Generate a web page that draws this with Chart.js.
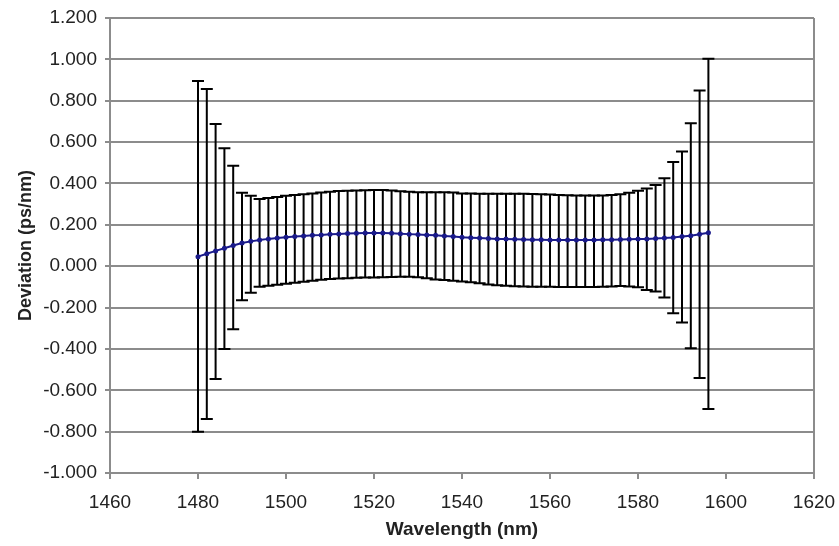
<!DOCTYPE html>
<html>
<head>
<meta charset="utf-8">
<script src="https://cdn.jsdelivr.net/npm/chart.js@4"></script>
<style>
  html, body { margin: 0; padding: 0; background: #fff; }
  canvas { display: block; }
</style>
</head>
<body>
<canvas id="devChart" width="839" height="546"></canvas>
<script>
// Wavelength points (nm)
const wavelengths = [
    1480, 1482, 1484, 1486, 1488, 1490, 1492, 1494, 1496, 1498,
    1500, 1502, 1504, 1506, 1508, 1510, 1512, 1514, 1516, 1518,
    1520, 1522, 1524, 1526, 1528, 1530, 1532, 1534, 1536, 1538,
    1540, 1542, 1544, 1546, 1548, 1550, 1552, 1554, 1556, 1558,
    1560, 1562, 1564, 1566, 1568, 1570, 1572, 1574, 1576, 1578,
    1580, 1582, 1584, 1586, 1588, 1590, 1592, 1594, 1596
];

// Mean deviation (ps/nm)
const meanDev = [
    0.046, 0.060, 0.074, 0.087, 0.100, 0.112, 0.120, 0.127, 0.132, 0.136,
    0.140, 0.143, 0.146, 0.149, 0.151, 0.154, 0.156, 0.158, 0.159, 0.160,
    0.161, 0.160, 0.159, 0.157, 0.155, 0.153, 0.151, 0.149, 0.146, 0.143,
    0.140, 0.138, 0.136, 0.134, 0.132, 0.131, 0.130, 0.129, 0.128, 0.128,
    0.127, 0.127, 0.127, 0.127, 0.127, 0.127, 0.128, 0.128, 0.129, 0.130,
    0.131, 0.132, 0.134, 0.136, 0.139, 0.143, 0.147, 0.154, 0.162
];

// Error bar ends
const upperDev = [
    0.895, 0.857, 0.687, 0.570, 0.486, 0.355, 0.341, 0.325, 0.330, 0.335,
    0.340, 0.344, 0.348, 0.352, 0.356, 0.360, 0.363, 0.365, 0.366, 0.367,
    0.368, 0.368, 0.366, 0.362, 0.360, 0.358, 0.357, 0.357, 0.357, 0.356,
    0.352, 0.351, 0.350, 0.350, 0.350, 0.350, 0.350, 0.350, 0.349, 0.348,
    0.346, 0.344, 0.343, 0.342, 0.342, 0.342, 0.342, 0.344, 0.348, 0.355,
    0.365, 0.376, 0.392, 0.425, 0.504, 0.554, 0.691, 0.849, 1.003
];
const lowerDev = [
    -0.800, -0.739, -0.545, -0.400, -0.305, -0.165, -0.128, -0.100, -0.095, -0.090,
    -0.085, -0.080, -0.075, -0.070, -0.066, -0.062, -0.060, -0.058, -0.056, -0.055,
    -0.055, -0.054, -0.052, -0.051, -0.051, -0.053, -0.058, -0.064, -0.067, -0.070,
    -0.074, -0.078, -0.083, -0.088, -0.092, -0.095, -0.097, -0.098, -0.099, -0.100,
    -0.100, -0.101, -0.101, -0.101, -0.101, -0.101, -0.100, -0.098, -0.096, -0.098,
    -0.102, -0.115, -0.123, -0.152, -0.228, -0.272, -0.397, -0.541, -0.691
];

// Axis ticks
const xTicks = [1460, 1480, 1500, 1520, 1540, 1560, 1580, 1600, 1620];
const yTicks = [-1.0, -0.8, -0.6, -0.4, -0.2, 0.0, 0.2, 0.4, 0.6, 0.8, 1.0, 1.2];

const gridGray = '#8c8c8c';
const textColor = '#222';
const fontFamily = "'Liberation Sans', Arial, sans-serif";

// Draw vertical error bars with caps, under the mean line
const errorBars = {
    id: 'errorBars',
    beforeDatasetsDraw(chart) {
        const { ctx, scales: { x, y } } = chart;
        ctx.save();
        ctx.strokeStyle = '#000';
        ctx.lineWidth = 2;
        wavelengths.forEach((w, i) => {
            const px = x.getPixelForValue(w);
            const top = y.getPixelForValue(upperDev[i]);
            const bot = y.getPixelForValue(lowerDev[i]);
            ctx.beginPath();
            ctx.moveTo(px, top);
            ctx.lineTo(px, bot);
            ctx.moveTo(px - 6, top);
            ctx.lineTo(px + 6, top);
            ctx.moveTo(px - 6, bot);
            ctx.lineTo(px + 6, bot);
            ctx.stroke();
        });
        ctx.restore();
    }
};

const ctx = document.getElementById('devChart').getContext('2d');
new Chart(ctx, {
    type: 'scatter',
    data: {
        datasets: [{
            data: wavelengths.map((w, i) => ({ x: w, y: meanDev[i] })),
            showLine: true,
            borderColor: '#1a1a8a',
            backgroundColor: '#1a1a8a',
            borderWidth: 2,
            pointRadius: 2.5,
            pointBorderWidth: 0
        }]
    },
    options: {
        responsive: false,
        animation: false,
        layout: {
            padding: { top: 18, right: 25, left: 0, bottom: 0 }
        },
        plugins: {
            legend: { display: false },
            tooltip: { enabled: false }
        },
        scales: {
            x: {
                type: 'linear',
                min: 1460,
                max: 1620,
                afterFit(scale) {
                    scale.height = 73;
                    scale.paddingLeft = 0;
                    scale.paddingRight = 0;
                },
                afterBuildTicks(scale) { scale.ticks = xTicks.map(v => ({ value: v })); },
                grid: {
                    color: c => (c.tick && c.tick.value === 1620 ? gridGray : 'rgba(0,0,0,0)'),
                    tickColor: gridGray,
                    tickLength: 6,
                    lineWidth: 2
                },
                border: { color: gridGray, width: 2 },
                ticks: {
                    color: textColor,
                    padding: 12,
                    maxRotation: 0,
                    font: { family: fontFamily, size: 19 },
                    callback: v => String(v)
                },
                title: {
                    display: true,
                    text: 'Wavelength (nm)',
                    color: textColor,
                    padding: { top: 0, bottom: 5 },
                    font: { family: fontFamily, size: 19, weight: 'bold' }
                }
            },
            y: {
                min: -1.0,
                max: 1.2,
                afterFit(scale) {
                    scale.width = 110;
                    scale.paddingTop = 0;
                    scale.paddingBottom = 0;
                },
                afterBuildTicks(scale) { scale.ticks = yTicks.map(v => ({ value: v })); },
                grid: {
                    color: gridGray,
                    lineWidth: 2,
                    tickLength: 5
                },
                border: { color: gridGray, width: 2 },
                ticks: {
                    color: textColor,
                    padding: 8,
                    font: { family: fontFamily, size: 19 },
                    callback: v => (Math.abs(v) < 1e-9 ? 0 : v).toFixed(3)
                },
                title: {
                    display: true,
                    text: 'Deviation (ps/nm)',
                    color: textColor,
                    padding: { top: 15, bottom: 0 },
                    font: { family: fontFamily, size: 18, weight: 'bold' }
                }
            }
        }
    },
    plugins: [errorBars]
});
</script>
</body>
</html>
